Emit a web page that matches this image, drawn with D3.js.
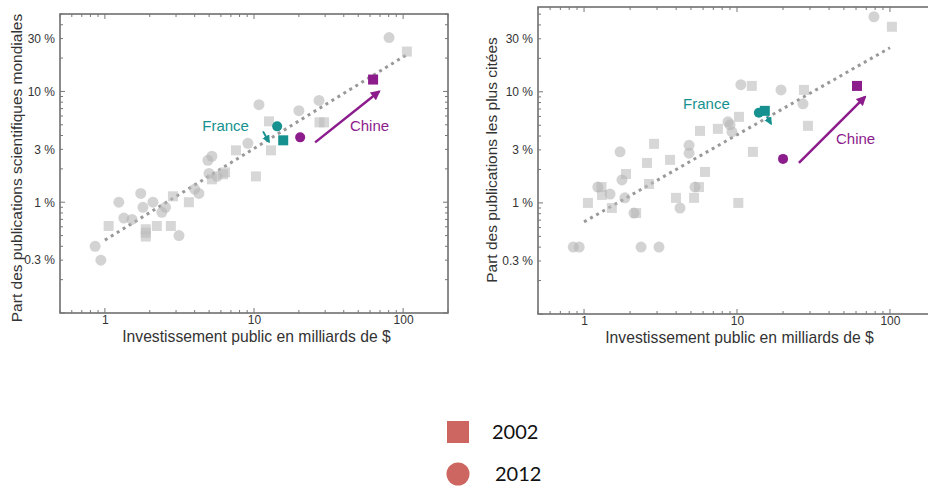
<!DOCTYPE html>
<html>
<head>
<meta charset="utf-8">
<script src="https://cdn.jsdelivr.net/npm/d3@7"></script>
<style>
  body { margin: 0; background: #fff; }
  svg { display: block; }
</style>
</head>
<body>
<script>
let svgWidth = 928;
let svgHeight = 491;

// tick values and labels shared by both charts
let xTickValues = [1, 10, 100];
let xTickLabels = ["1", "10", "100"];
let yTickValues = [0.3, 1, 3, 10, 30];
let yTickLabels = ["0.3 %", "1 %", "3 %", "10 %", "30 %"];

// left chart: share of world scientific publications (%), vs public investment (G$)
let leftSquares = [
    [1.06, 0.61], [1.88, 0.57], [1.88, 0.53], [1.88, 0.49], [2.23, 0.61], [2.77, 0.61],
    [2.86, 1.13], [3.66, 1.0], [5.22, 1.61], [6.2, 1.79], [6.4, 1.86], [7.57, 2.94],
    [10.3, 1.71], [12.6, 5.37], [13.0, 2.94], [27.5, 5.26], [29.5, 5.26], [106, 22.9]
];
let leftCircles = [
    [0.86, 0.40], [0.94, 0.30], [1.24, 1.0], [1.34, 0.72], [1.52, 0.70], [1.74, 1.2],
    [1.80, 0.90], [2.10, 1.0], [2.41, 0.81], [2.55, 0.90], [3.14, 0.50], [4.0, 1.31],
    [4.27, 1.2], [4.91, 2.39], [5.22, 2.6], [4.99, 1.82], [5.65, 1.71], [9.1, 3.4],
    [10.8, 7.6], [20.0, 6.7], [27.3, 8.3], [80.5, 30.6]
];
let leftHighlights = [
    { country: "France", year: 2002, x: 15.7, y: 3.62 },
    { country: "France", year: 2012, x: 14.3, y: 4.84 },
    { country: "Chine", year: 2002, x: 62.9, y: 12.8 },
    { country: "Chine", year: 2012, x: 20.4, y: 3.85 }
];
let leftTrend = [[1.0, 0.455], [106, 21.5]];
let leftArrows = [
    { country: "France", from: [11.5, 4.36], to: [12.6, 3.5] },
    { country: "Chine", from: [25.7, 3.47], to: [69, 10.0] }
];
let leftLabels = [
    { country: "France", x: 4.5, y: 4.36 },
    { country: "Chine", x: 44, y: 4.36 }
];

// right chart: share of the most cited publications (%)
let rightSquares = [
    [1.06, 1.0], [1.31, 1.18], [1.30, 1.39], [1.52, 0.90], [1.88, 1.82], [2.19, 0.81],
    [2.58, 2.29], [2.66, 1.48], [2.87, 3.4], [3.65, 2.44], [3.99, 1.11], [5.24, 1.11],
    [5.64, 1.39], [6.18, 1.9], [5.73, 4.45], [7.5, 4.64], [10.3, 5.95], [10.2, 1.0],
    [12.5, 11.3], [12.7, 2.88], [27.4, 10.4], [29.1, 4.94], [103, 38.5]
];
let rightCircles = [
    [0.85, 0.40], [0.93, 0.40], [2.36, 0.40], [3.09, 0.40], [1.23, 1.39], [1.48, 1.2],
    [1.77, 1.61], [1.85, 1.11], [2.12, 0.81], [1.72, 2.88], [4.24, 0.90], [4.86, 3.3],
    [4.86, 2.8], [5.31, 1.39], [8.73, 5.37], [9.0, 5.05], [9.27, 4.36], [10.6, 11.6],
    [19.4, 10.4], [27, 7.8], [78.6, 47.4]
];
let rightHighlights = [
    { country: "France", year: 2002, x: 15.2, y: 6.74 },
    { country: "France", year: 2012, x: 13.9, y: 6.47 },
    { country: "Chine", year: 2002, x: 60.9, y: 11.3 },
    { country: "Chine", year: 2012, x: 20.0, y: 2.49 }
];
let rightTrend = [[1.0, 0.675], [100, 24.9]];
let rightArrows = [
    { country: "France", from: [15.7, 5.95], to: [16.7, 5.15] },
    { country: "Chine", from: [25.4, 2.29], to: [68.7, 9.0] }
];
let rightLabels = [
    { country: "France", x: 4.44, y: 7.0 },
    { country: "Chine", x: 44.4, y: 3.4 }
];

// legend
let legendYears = ["2002", "2012"];

let countryColor = { France: "#16918f", Chine: "#8c1c8c" };

let svg = d3.select("body")
    .append("svg")
    .attr("width", svgWidth)
    .attr("height", svgHeight);

let defs = svg.append("defs");
Object.keys(countryColor).forEach(function(c) {
    defs.append("marker")
        .attr("id", "arrow-" + c)
        .attr("viewBox", "0 0 10 10")
        .attr("refX", 8)
        .attr("refY", 5)
        .attr("markerWidth", 4)
        .attr("markerHeight", 4)
        .attr("orient", "auto")
        .append("path")
        .attr("d", "M0,0 L10,5 L0,10 Z")
        .attr("fill", countryColor[c]);
});

function drawChart(opts) {
    let x = d3.scaleLog().domain([0.5, 200]).range([opts.left, opts.right]);
    let y = d3.scaleLog().domain(opts.yDomain).range([opts.bottom, opts.top]);

    let g = svg.append("g");

    // frame
    g.append("rect")
        .attr("x", opts.left)
        .attr("y", opts.top)
        .attr("width", opts.right - opts.left)
        .attr("height", opts.bottom - opts.top)
        .attr("fill", "none")
        .attr("stroke", "#666")
        .attr("stroke-width", 1.5);

    // minor + major ticks, pointing inward
    let xMinor = [];
    let yMinor = [];
    [0.1, 1, 10, 100].forEach(function(d) {
        for (let k = 1; k < 10; k++) {
            let v = d * k;
            if (v >= 0.5 && v <= 200) xMinor.push(v);
            if (v >= opts.yDomain[0] && v <= opts.yDomain[1]) yMinor.push(v);
        }
    });

    let ticks = g.append("g").attr("stroke", "#777").attr("stroke-width", 1);
    xMinor.forEach(function(v) {
        let len = (Math.abs(Math.log10(v) - Math.round(Math.log10(v))) < 1e-9) ? 5 : 3;
        ticks.append("line").attr("x1", x(v)).attr("x2", x(v))
            .attr("y1", opts.bottom).attr("y2", opts.bottom - len);
        ticks.append("line").attr("x1", x(v)).attr("x2", x(v))
            .attr("y1", opts.top).attr("y2", opts.top + len);
    });
    yMinor.forEach(function(v) {
        let len = (Math.abs(Math.log10(v) - Math.round(Math.log10(v))) < 1e-9) ? 5 : 3;
        ticks.append("line").attr("x1", opts.left).attr("x2", opts.left + len)
            .attr("y1", y(v)).attr("y2", y(v));
        ticks.append("line").attr("x1", opts.right).attr("x2", opts.right - len)
            .attr("y1", y(v)).attr("y2", y(v));
    });

    // tick labels
    let bottomAxis = d3.axisBottom(x)
        .tickValues(xTickValues)
        .tickFormat((d, i) => xTickLabels[i])
        .tickSize(0)
        .tickPadding(2);
    let leftAxis = d3.axisLeft(y)
        .tickValues(yTickValues)
        .tickFormat((d, i) => yTickLabels[i])
        .tickSize(0)
        .tickPadding(5);

    let xa = g.append("g")
        .attr("transform", `translate(0, ${opts.bottom})`)
        .call(bottomAxis);
    let ya = g.append("g")
        .attr("transform", `translate(${opts.left}, 0)`)
        .call(leftAxis);
    [xa, ya].forEach(function(a) {
        a.select(".domain").remove();
        a.selectAll("text")
            .attr("fill", "#333")
            .style("font-family", "Liberation Sans, Arial, sans-serif")
            .style("font-size", "12px");
    });

    // axis titles
    g.append("text")
        .attr("x", (x(1.2) + x(90)) / 2)
        .attr("y", opts.bottom + 29)
        .attr("text-anchor", "middle")
        .attr("fill", "#333")
        .style("font-family", "Liberation Sans, Arial, sans-serif")
        .style("font-size", "15.7px")
        .text("Investissement public en milliards de $");

    g.append("text")
        .attr("transform", `translate(${opts.yTitleX}, ${opts.yTitleY}) rotate(-90)`)
        .attr("text-anchor", "middle")
        .attr("fill", "#333")
        .style("font-family", "Liberation Sans, Arial, sans-serif")
        .style("font-size", "15.5px")
        .text(opts.yTitle);

    let plot = g.append("g");

    // trend line
    let drawLine = d3.line()
        .x(d => x(d[0]))
        .y(d => y(d[1]));
    plot.append("path")
        .datum(opts.trend)
        .attr("d", drawLine)
        .attr("fill", "none")
        .attr("stroke", "#999")
        .attr("stroke-width", 3)
        .attr("stroke-dasharray", "3,4");

    // grey countries
    plot.selectAll(".gsq")
        .data(opts.squares)
        .enter()
        .append("rect")
        .attr("x", d => x(d[0]) - 5)
        .attr("y", d => y(d[1]) - 5)
        .attr("width", 10)
        .attr("height", 10)
        .attr("fill", "#bdbdbd")
        .attr("fill-opacity", 0.6);

    plot.selectAll(".gci")
        .data(opts.circles)
        .enter()
        .append("circle")
        .attr("cx", d => x(d[0]))
        .attr("cy", d => y(d[1]))
        .attr("r", 5.5)
        .attr("fill", "#b5b5b5")
        .attr("fill-opacity", 0.6);

    // highlighted countries
    opts.highlights.forEach(function(d) {
        if (d.year === 2002) {
            plot.append("rect")
                .attr("x", x(d.x) - 5)
                .attr("y", y(d.y) - 5)
                .attr("width", 10)
                .attr("height", 10)
                .attr("fill", countryColor[d.country]);
        } else {
            plot.append("circle")
                .attr("cx", x(d.x))
                .attr("cy", y(d.y))
                .attr("r", 5)
                .attr("fill", countryColor[d.country]);
        }
    });

    opts.arrows.forEach(function(d) {
        plot.append("line")
            .attr("x1", x(d.from[0]))
            .attr("y1", y(d.from[1]))
            .attr("x2", x(d.to[0]))
            .attr("y2", y(d.to[1]))
            .attr("stroke", countryColor[d.country])
            .attr("stroke-width", d.country === "Chine" ? 2.5 : 2)
            .attr("marker-end", `url(#arrow-${d.country})`);
    });

    opts.labels.forEach(function(d) {
        plot.append("text")
            .attr("x", x(d.x))
            .attr("y", y(d.y))
            .attr("fill", countryColor[d.country])
            .style("font-family", "Liberation Sans, Arial, sans-serif")
            .style("font-size", "15px")
            .text(d.country);
    });
}

drawChart({
    left: 60, right: 448, top: 14, bottom: 313,
    yDomain: [0.1, 50],
    squares: leftSquares, circles: leftCircles, highlights: leftHighlights,
    trend: leftTrend, arrows: leftArrows, labels: leftLabels,
    yTitle: "Part des publications scientifiques mondiales",
    yTitleX: 22, yTitleY: 168
});

drawChart({
    left: 538, right: 936, top: 7, bottom: 314,
    yDomain: [0.1, 58],
    squares: rightSquares, circles: rightCircles, highlights: rightHighlights,
    trend: rightTrend, arrows: rightArrows, labels: rightLabels,
    yTitle: "Part des publications les plus citées",
    yTitleX: 497, yTitleY: 160
});

// legend
let legend = svg.append("g");
let legendY = d3.scalePoint().domain(legendYears).range([432, 474]);
legendYears.forEach(function(yr, i) {
    if (i === 0) {
        legend.append("rect")
            .attr("x", 447)
            .attr("y", legendY(yr) - 11)
            .attr("width", 22)
            .attr("height", 22)
            .attr("fill", "#cd6660");
    } else {
        legend.append("circle")
            .attr("cx", 458)
            .attr("cy", legendY(yr))
            .attr("r", 11.5)
            .attr("fill", "#cd6660");
    }
    legend.append("text")
        .attr("x", i === 0 ? 492 : 495)
        .attr("y", legendY(yr) + 7)
        .attr("fill", "#111")
        .style("font-family", "Lato, 'Open Sans', sans-serif")
        .style("font-size", "20px")
        .text(yr);
});
</script>
</body>
</html>
